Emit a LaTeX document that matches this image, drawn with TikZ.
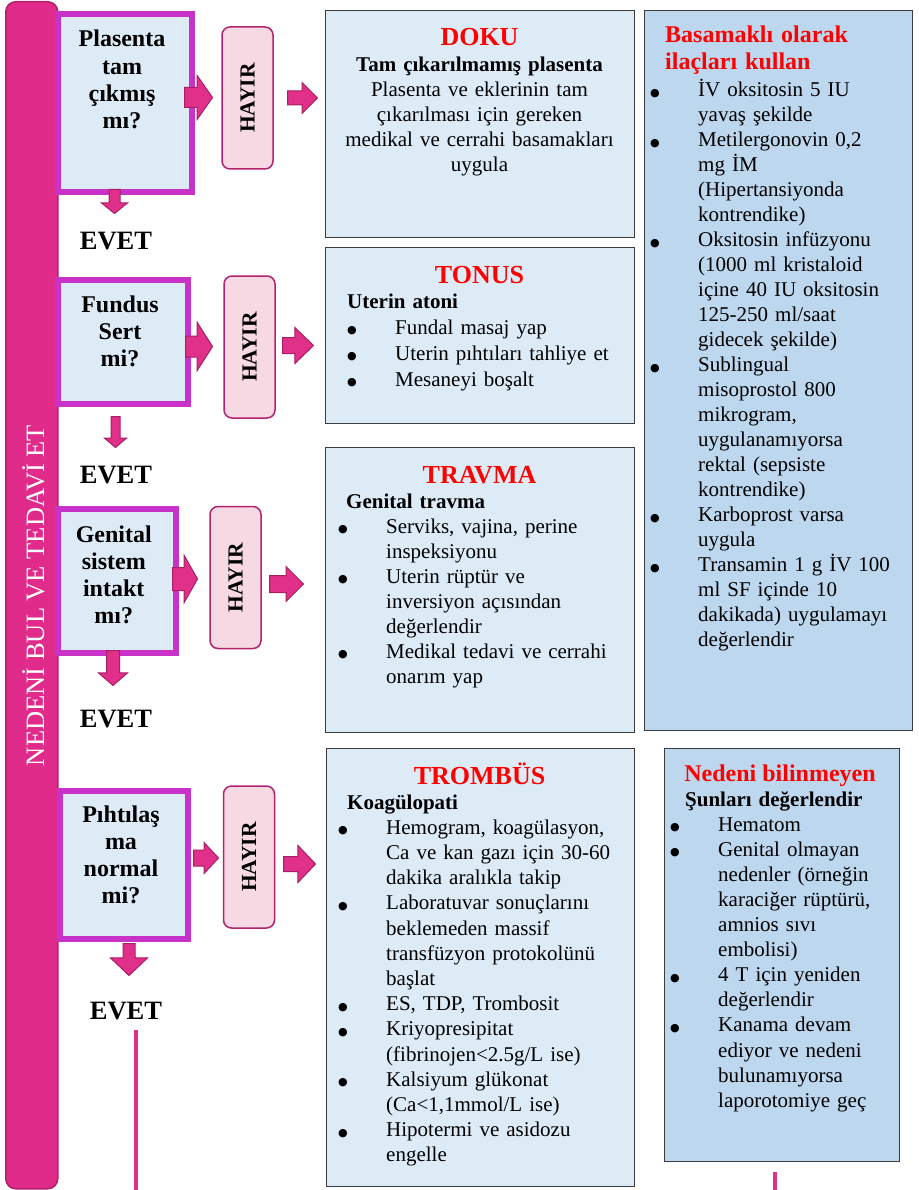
\documentclass[tikz,border=0pt]{standalone}
\usepackage{fontspec}
\setmainfont{Liberation Serif}
\newfontfamily\dotfont{DejaVu Sans}
\usetikzlibrary{positioning,shapes.arrows}

\definecolor{barpink}{HTML}{E02B8A}
\definecolor{baredge}{HTML}{B0216C}
\definecolor{qedge}{HTML}{C832C8}
\definecolor{paleblue}{HTML}{DDEBF7}
\definecolor{drugblue}{HTML}{BDD7EE}
\definecolor{boxedge}{HTML}{3C3C3C}
\definecolor{hayirfill}{HTML}{F7D9E4}
\definecolor{hayiredge}{HTML}{B3226E}
\definecolor{arrowfill}{HTML}{E0308A}
\definecolor{arrowedge}{HTML}{A81E64}
\definecolor{titlered}{HTML}{FF0000}

\newcommand{\ttl}[1]{{\fontsize{26}{26}\selectfont\bfseries\color{titlered}#1}}
\newcommand{\bul}{\raisebox{0.5pt}{\fontsize{11}{0}\dotfont ●}}
\newcommand{\blt}[1]{\hangindent=48pt\hangafter=1\noindent\makebox[48pt][l]{\bul}#1\par}

\tikzset{
  sidebar/.style={draw=baredge, fill=barpink, line width=1.5pt, rounded corners=10pt, inner sep=0pt, anchor=north west},
  qbox/.style={draw=qedge, fill=paleblue, line width=6pt, inner sep=0pt, anchor=north west},
  qtext/.style={inner sep=0pt, anchor=base, align=center, text width=130pt, font=\fontsize{24}{27.3}\selectfont\bfseries},
  hayirbox/.style={draw=hayiredge, fill=hayirfill, line width=1.5pt, rounded corners=8pt, rotate=90, minimum width=142pt, minimum height=51pt, inner sep=0pt, font=\fontsize{21.5}{24}\selectfont\bfseries},
  blkarrow/.style n args={4}{single arrow, draw=arrowedge, fill=arrowfill, line width=1pt, inner sep=0pt, minimum height=#1, inner ysep=#2, single arrow head extend=#3, single arrow tip angle=#4, anchor=tail},
  evetlbl/.style={inner sep=0pt, anchor=base, font=\fontsize{26.5}{30}\selectfont\bfseries},
  midbox/.style={draw=boxedge, fill=paleblue, line width=1.2pt, inner sep=0pt, anchor=north west},
  drugbox/.style={midbox, fill=drugblue},
  boxtitle/.style={inner sep=0pt, anchor=base, font=\fontsize{26}{26}\selectfont\bfseries, text=titlered},
  boxtext/.style={inner sep=0pt, anchor=base west, align=left, text width=#1, font=\fontsize{21}{25.2}\selectfont},
  pinkline/.style={draw=arrowfill, line width=3.5pt},
}

\begin{document}
\begin{tikzpicture}[x=1pt,y=-1pt]
  \useasboundingbox (0,0) rectangle (918,1190);

  % side bar
  \node[sidebar, minimum width=52pt, minimum height=1187pt] (bar) at (5,1) {};
  \node[rotate=90, anchor=base, inner sep=0pt, text=white, font=\fontsize{26.5}{30}\selectfont] (sidetxt) at (44,595.5) {NEDENİ BUL VE TEDAVİ ET};

  % questions
  \node[qbox, minimum width=134pt, minimum height=178.5pt] (q1) at (55,11) {};
  \node[qbox, minimum width=129.5pt, minimum height=124pt] (q2) at (55,277) {};
  \node[qbox, minimum width=117.5pt, minimum height=144pt] (q3) at (55,506) {};
  \node[qbox, minimum width=127.5pt, minimum height=148.5pt] (q4) at (57,787.5) {};

  \node[qtext] (q1txt) at (122,47) {Plasenta\\tam\\çıkmış\\mı?};
  \node[qtext] (q2txt) at (120,312) {Fundus\\Sert\\mi?};
  \node[qtext] (q3txt) at (113.75,542) {Genital\\sistem\\intakt\\mı?};
  \node[qtext] (q4txt) at (121,822) {Pıhtılaş\\ma\\normal\\mi?};

  % arrows
  \node[blkarrow={28pt}{9.5pt}{12pt}{110}] (ar1a) at (184,97.5) {};
  \node[blkarrow={30pt}{6.5pt}{8.5pt}{90}] (ar1b) at (287,98) {};
  \node[blkarrow={27pt}{10pt}{13.5pt}{115}] (ar2a) at (185,346.5) {};
  \node[blkarrow={31pt}{7.5pt}{10pt}{88}] (ar2b) at (282,345.5) {};
  \node[blkarrow={25pt}{11pt}{12pt}{121}] (ar3a) at (172,579) {};
  \node[blkarrow={34pt}{8pt}{9pt}{90}] (ar3b) at (269,584) {};
  \node[blkarrow={25pt}{7.5pt}{7.5pt}{94}] (ar4a) at (193,858) {};
  \node[blkarrow={32pt}{7pt}{11pt}{93}] (ar4b) at (283,864) {};

  \node[blkarrow={24pt}{5pt}{7.5pt}{102}, rotate=-90] (dn1) at (114.5,189) {};
  \node[blkarrow={31pt}{4pt}{6.5pt}{99}, rotate=-90] (dn2) at (115.5,416) {};
  \node[blkarrow={35pt}{6pt}{8pt}{98}, rotate=-90] (dn3) at (113,650) {};
  \node[blkarrow={32pt}{5.5pt}{12.5pt}{93}, rotate=-90] (dn4) at (129,943) {};

  \node[evetlbl] (evet1) at (116,250) {EVET};
  \node[evetlbl] (evet2) at (116,483) {EVET};
  \node[evetlbl] (evet3) at (116,727) {EVET};
  \node[evetlbl] (evet4) at (126,1019) {EVET};

  % HAYIR boxes
  \node[hayirbox] (hy1) at (247.5,98) {HAYIR};
  \node[hayirbox] (hy2) at (249.5,347) {HAYIR};
  \node[hayirbox] (hy3) at (235.5,577.5) {HAYIR};
  \node[hayirbox] (hy4) at (249,857) {HAYIR};

  % cause boxes
  \node[midbox, minimum width=309pt, minimum height=227pt] (doku) at (325,10) {};
  \node[inner sep=0pt, anchor=base, align=center, text width=300pt, font=\fontsize{21}{25.2}\selectfont] (dokutxt) at (479.5,46) {\ttl{DOKU}\\
    \textbf{Tam çıkarılmamış plasenta}\\
    Plasenta ve eklerinin tam\\
    çıkarılması için gereken\\
    medikal ve cerrahi basamakları\\
    uygula};

  \node[midbox, minimum width=309pt, minimum height=176pt] (tonus) at (325,247) {};
  \node[boxtitle] (tonusttl) at (479.5,283) {TONUS};
  \node[boxtext=280pt, font=\fontsize{21}{26}\selectfont] (tonustxt) at (347,308) {\textbf{Uterin atoni}\par
    \blt{Fundal masaj yap}
    \blt{Uterin pıhtıları tahliye et}
    \blt{Mesaneyi boşalt}};

  \node[midbox, minimum width=309pt, minimum height=285pt] (travma) at (325,447) {};
  \node[boxtitle] (travmattl) at (479.5,483) {TRAVMA};
  \node[boxtext=290pt, font=\fontsize{21}{25}\selectfont] (travmatxt) at (338,508) {\hspace*{8pt}\textbf{Genital travma}\par
    \blt{Serviks, vajina, perine\newline inspeksiyonu}
    \blt{Uterin rüptür ve\newline inversiyon açısından\newline değerlendir}
    \blt{Medikal tedavi ve cerrahi\newline onarım yap}};

  \node[midbox, minimum width=308pt, minimum height=438pt] (trombus) at (326,748) {};
  \node[boxtitle] (trombusttl) at (479.5,784) {TROMBÜS};
  \node[boxtext=290pt] (trombustxt) at (338,809) {\hspace*{9pt}\textbf{Koagülopati}\par
    \blt{Hemogram, koagülasyon,\newline Ca ve kan gazı için 30-60\newline dakika aralıkla takip}
    \blt{Laboratuvar sonuçlarını\newline beklemeden massif\newline transfüzyon protokolünü\newline başlat}
    \blt{ES, TDP, Trombosit}
    \blt{Kriyopresipitat\newline (fibrinojen<2.5g/L ise)}
    \blt{Kalsiyum glükonat\newline (Ca<1,1mmol/L ise)}
    \blt{Hipotermi ve asidozu\newline engelle}};

  % drugs
  \node[drugbox, minimum width=268pt, minimum height=720pt] (ilac) at (644,10) {};
  \node[inner sep=0pt, anchor=base west, align=left, text width=240pt, text=titlered, font=\fontsize{24}{27}\selectfont\bfseries] (ilacttl) at (665,43) {Basamaklı olarak\\ilaçları kullan};
  \node[boxtext=258pt, font=\fontsize{21}{25}\selectfont] (ilactxt) at (650,97) {\blt{İV oksitosin 5 IU\newline yavaş şekilde}
    \blt{Metilergonovin 0,2\newline mg İM\newline (Hipertansiyonda\newline kontrendike)}
    \blt{Oksitosin infüzyonu\newline (1000 ml kristaloid\newline içine 40 IU oksitosin\newline 125-250 ml/saat\newline gidecek şekilde)}
    \blt{Sublingual\newline misoprostol 800\newline mikrogram,\newline uygulanamıyorsa\newline rektal (sepsiste\newline kontrendike)}
    \blt{Karboprost varsa\newline uygula}
    \blt{Transamin 1 g İV 100\newline ml SF içinde 10\newline dakikada) uygulamayı\newline değerlendir}};

  % unknown cause
  \node[drugbox, minimum width=235pt, minimum height=413pt] (nedeni) at (664,748) {};
  \node[boxtitle, font=\fontsize{24}{26}\selectfont\bfseries] (nedenittl) at (780,781) {Nedeni bilinmeyen};
  \node[boxtext=225pt, font=\fontsize{21}{25.1}\selectfont] (nedenitxt) at (670,806) {\hspace*{15pt}\textbf{Şunları değerlendir}\par
    \blt{Hematom}
    \blt{Genital olmayan\newline nedenler (örneğin\newline karaciğer rüptürü,\newline amnios sıvı\newline embolisi)}
    \blt{4 T için yeniden\newline değerlendir}
    \blt{Kanama devam\newline ediyor ve nedeni\newline bulunamıyorsa\newline laporotomiye geç}};

  % lines going on
  \coordinate (l4top) at (136,1030);
  \coordinate (l4end) at (136,1190);
  \coordinate (nbtop) at (775,1172);
  \coordinate (nbend) at (775,1190);
  \draw[pinkline] (l4top) -- (l4end);
  \draw[pinkline] (nbtop) -- (nbend);
\end{tikzpicture}
\end{document}
